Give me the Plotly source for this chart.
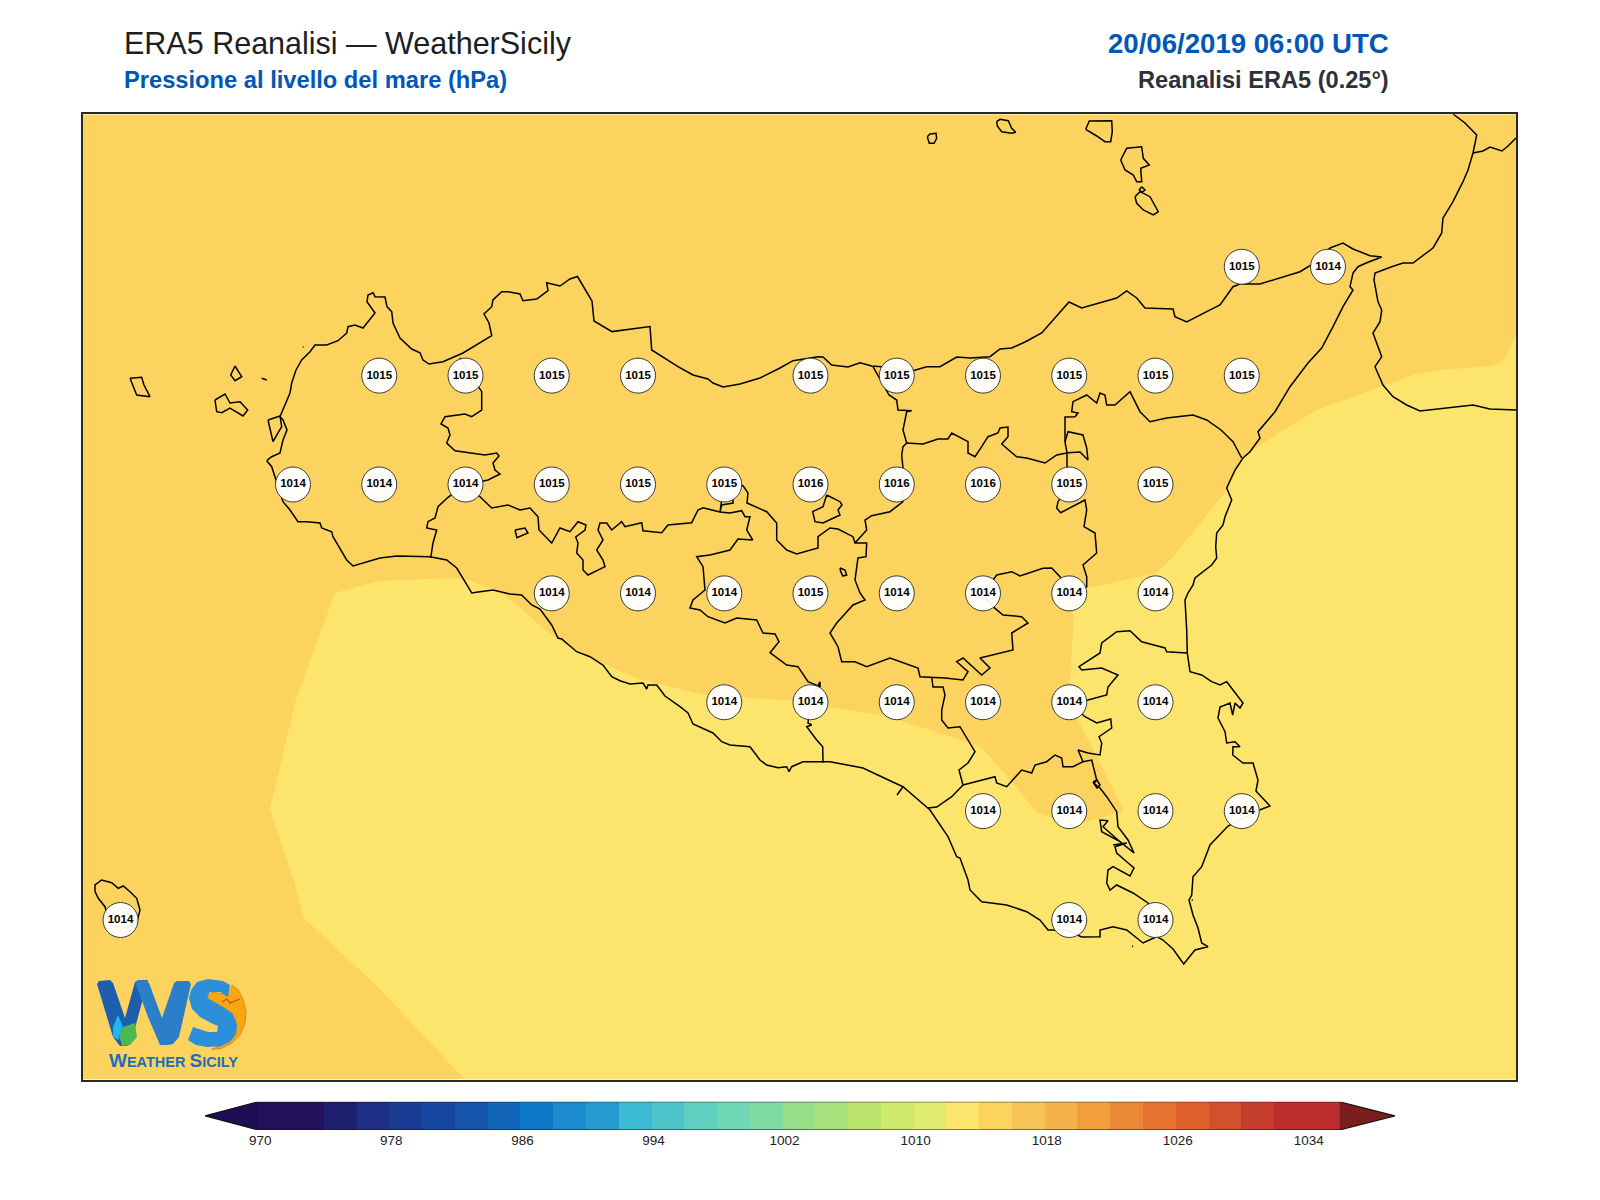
import plotly.graph_objects as go

# ---------- station grid (longitude, latitude, sea level pressure in hPa) ----------
station_lon = [15.25, 15.5,
               12.75, 13.0, 13.25, 13.5, 14.0, 14.25, 14.5, 14.75, 15.0, 15.25,
               12.5, 12.75, 13.0, 13.25, 13.5, 13.75, 14.0, 14.25, 14.5, 14.75, 15.0,
               13.25, 13.5, 13.75, 14.0, 14.25, 14.5, 14.75, 15.0,
               13.75, 14.0, 14.25, 14.5, 14.75, 15.0,
               14.5, 14.75, 15.0, 15.25,
               12.0, 14.75, 15.0]
station_lat = [38.25] * 2 + [38.0] * 10 + [37.75] * 11 + [37.5] * 8 + [37.25] * 6 + [37.0] * 4 + [36.75] * 3
station_hpa = [1015, 1014,
               1015, 1015, 1015, 1015, 1015, 1015, 1015, 1015, 1015, 1015,
               1014, 1014, 1014, 1015, 1015, 1015, 1016, 1016, 1016, 1015, 1015,
               1014, 1014, 1014, 1015, 1014, 1014, 1014, 1014,
               1014, 1014, 1014, 1014, 1014, 1014,
               1014, 1014, 1014, 1014,
               1014, 1014, 1014]

# ---------- colour bar levels ----------
level_start = 970
level_step = 2
level_colors = ["#24115E", "#24115E", "#1F1F70", "#1F2E85", "#1B3A92", "#1746A0", "#1455AB", "#1164B8",
                "#0E78C8", "#1B8ACF", "#259BD0", "#3DBBD3", "#4EC4CB", "#5FCFC0", "#6FD7B5", "#7FD9A3",
                "#97DE88", "#A8E27C", "#BAE46C", "#CFE86E", "#E0EC70", "#FDE56D", "#FDD35F", "#F7C358",
                "#F5B24B", "#F19E3D", "#EC8938", "#E67330", "#E0612B", "#D2502B", "#C53D2C", "#BB2D2C", "#BB2D2C"]
level_ticks = [970, 978, 986, 994, 1002, 1010, 1018, 1026, 1034]

# ---------- outlines (x, y as read on the picture) ----------
band_1012_1014 = [(465,1079.5),(378,987),(304,918),(293,878),(270,809),(296,699),(335,593),(378,581),(430,579),(457,578),
    (473,582),(497,590),(517,605),(537,623),(558,640),(587,655),(617,670),(637,678),(670,687),(707,695),(747,698),(797,701),
    (830,707),(880,715),(930,730),(970,743),(982,748),(1013,783),(1035,811),(1052,818),(1085,822),(1124,811),(1097,757),
    (1078,720),(1070,683),(1073,630),(1073,612),(1080,590),(1157,573),(1173,557),(1197,527),(1227,490),(1243,458),(1253,450),
    (1283,430),(1317,410),(1380,387),(1413,375),(1443,370),(1490,366),(1502,363),(1516,337),(1516,1079.5)]

sicily_coast = [(266.7,460.7),(271.7,456.7),(280,453),(281.7,445),(283,440),(287,430),(283,420),(280,416.7),(290,393),(291.7,383),
    (296,370),(301.7,360),(310,351.7),(315,345),(326.7,345),(338,340.7),(346.7,333),(348,326.7),(355,325),(363,328),(375,313),
    (367,301.7),(368,295),(373,292.7),(375,296.7),(385,297),(387,306.7),(391.7,311.7),(393,323),(400,338),(411.7,349),(420,352.7),
    (423,360),(429,364),(443,361.7),(463,353),(480,343),(491.7,335.7),(489,323),(484,314),(491.7,306.7),(493,300),(501.7,291.7),
    (508,291.7),(520,294),(523,300.7),(536.7,299),(548,290.7),(546.7,282.7),(560,286),(570,279),(577.5,276.5),(592,301),(594,321),
    (612,331.6),(638,328.6),(650,326.5),(651.7,350),(666.7,360),(678,366.7),(693,375),(708,379),(713,383),(723,387),(740,384),
    (760,378),(780,368),(793,360.7),(818,356.7),(823,357),(831.7,365),(848,367),(860,362.7),(871.7,366),(881.7,366.7),(913,370.7),
    (926.7,366.7),(940,366.7),(956.7,357),(970,358),(990,356.7),(1000,349),(1011.7,348),(1025,342),(1041.7,333),(1053,320),(1069,302),
    (1081.7,308),(1103,301.7),(1116.7,298),(1126.7,291),(1136.7,298),(1145,308),(1173,309),(1175,316.7),(1186.7,322),(1206.7,311.7),
    (1220,305),(1233,286.7),(1240,284),(1260,284),(1280,278),(1300,271.7),(1310,265.7),(1330,248),(1343,243),(1353,249),(1370,255.7),
    (1381.7,257),(1366.7,262.7),(1358,266.7),(1353,273),(1350,286.7),(1353,290),(1343,306.7),(1333,326.7),(1321.7,348),(1308,363),
    (1290,386.7),(1275,411.7),(1258,431.7),(1260,438),(1250,451.7),(1243,458),(1235,470),(1226.7,488),(1231.7,500),(1225,516.7),
    (1223,525),(1216.7,533),(1215.7,546.7),(1216.7,558),(1211.7,565),(1195,578),(1193,585),(1188,593),(1185,600),(1186.7,630),
    (1187.3,653),(1190,671.7),(1201.7,675),(1211.7,681.7),(1220,685),(1226.7,681.7),(1235,693),(1243,703),(1240,708),(1235,703),
    (1232.7,715),(1230,703),(1220,707),(1218,718),(1225,731.7),(1226.7,743),(1235,741.7),(1240,746.7),(1233,746.7),(1232.7,755),
    (1243,763),(1253,763),(1258,780),(1256,791),(1270,806),(1257,811),(1228,826),(1210,845),(1201.7,866.7),(1193,876.7),(1191.7,895),
    (1189,900),(1193,915),(1198,928),(1201.7,943),(1208,946.7),(1195,950),(1183.7,964),(1173,949),(1163,940),(1156.7,936.7),(1143,943),
    (1126.7,930),(1113,926.7),(1100,930),(1100,936.7),(1081.7,937),(1066.7,930),(1048,930),(1040,920),(1026.7,911.7),(1006.7,905),
    (981.7,901.7),(970,890),(968,880),(960,858),(956.7,856.7),(948,836.7),(930,810),(903,786.7),(890,780.7),(863,768),(830,761.7),
    (803,761.7),(791.7,766.7),(789,771.7),(786.7,766.7),(778,767.7),(766.7,765),(760,760),(750,746.7),(730,745),(721.7,741.7),(713,733),
    (693,724),(688,713),(680,706.7),(665,696),(656.7,685),(648,685),(646.7,689),(643,683),(630,684),(620,680.7),(611.7,676.7),(603,665),
    (590,656.7),(576.7,651.7),(561.7,639),(558,638),(551.7,625),(540,609),(531.7,605),(521.7,595),(510,594),(493,590),(480,591.7),
    (471.7,593),(468,586.7),(456.7,568),(446.7,560),(430,556.7),(396.7,556),(380,558),(353,566),(346.7,560),(333,536.7),(331.7,531.7),
    (321.7,528),(320,523),(306.7,521.7),(298,521.7),(290,510),(283,501.7),(271.7,466.7),(266.7,460.7)]

province_borders = [
    [(460,358),(466,368),(481.7,391.7),(481.7,410),(471.7,416.7),(465,414),(445,416.7),(441,424),(448,428),(450,435),(446.7,443),(455,450.7),
     (485,455),(496.7,453),(499,456),(493,463),(495,470),(500,474),(488,480),(465,485),(448,497.3),(438,506.7),(435,518),(428,521.7),(426.7,528),
     (436.7,530),(433,543),(430.7,558)],
    [(465,485),(480,496.7),(491.7,508),(508,505),(520,510),(530,508),(538,516.7),(539,530),(551.7,543),(560,528),(570,531.7),(578,521.7),(586,525),
     (585,530),(575.7,537),(578,543),(576.7,553),(583,560),(583,570),(588,575),(605,566.7),(603,560),(596.7,550),(603,540),(598,530),(600,523),
     (606.7,523),(611.7,530),(621.7,521.7),(625,526.7),(641.7,522.7),(643,530.7),(661.7,532.7),(668,525),(691.7,522.7),(698,510),(703,507.7),
     (720,512),(730,513),(741.7,510.7),(745,516.7),(750,516.7),(746.7,530),(752.7,540),(738,539),(730,550),(710,555),(696.7,556.7),(703,566.7),
     (705,590),(693,600),(690,608),(700,610),(708,616.7),(725,623),(736.7,618),(756.7,620),(763,633),(775,634),(779,641.7),(770,652.7),(786.7,665),
     (798,666.7),(808,681.7),(820,686.7),(820,681.7),(810,703),(808,723),(811.7,725),(806.7,726.7),(816.7,740),(822.7,746.7),(823,762.7)],
    [(720,512),(721.7,505),(733,503),(733,498),(722,498),(720,512)],
    [(724,485),(743,485.7),(748,493),(747,503),(766.7,511.7),(776.7,523),(776.7,540),(786.7,550),(796.7,554),(818,548),(818,536.7),(830,528),(838,529),
     (853,536.7),(855,543),(866.7,543),(866,556.7),(858,558),(855,580),(860,593),(865,600),(853,605),(836.7,623),(830,633),(838,646.7),(841.7,661.7),
     (855,661.7),(866.7,666.7),(890,658),(918,668),(920,676.7),(931.7,677),(945,678),(963,680),(968,671.7),(956.7,661.7),(963,658),(981.7,675),(990,668),
     (980,658),(1013,650),(1011.7,633),(1028,623),(1021.7,616.7),(1003,615),(993,606.7),(983,594),(996.7,575),(1011.7,571.7),(1020,576),(1043,568.3),
     (1051.7,568),(1060,576.7),(1069,594),(1086.7,586.7),(1086.7,576.7),(1083,565),(1096.7,553),(1095,533),(1084,526.7),(1086.7,510),(1085,500),(1071.7,506.7),
     (1060.7,512.7),(1056.7,508),(1058,501.7),(1069,485),(1067,465),(1067,452.7),(1065,441.7),(1068,431.7),(1075,433),(1083,435),(1086.7,448),(1088,460),
     (1080,452),(1068,452.7),(1056.7,455),(1045,463),(1026.7,458),(1016.7,456.7),(1001.7,444),(1008,436.7),(1008,427),(1000,428),(998,433),(988,436.7),
     (981.7,446.7),(975,456.7),(968,453),(968,441.7),(951.7,433),(948,439),(938,439),(923,444),(906.7,443),(903,446.7),(901.7,455),(903,468),(903,501.7),
     (890,511.7),(871.7,515.7),(865,520),(866.7,530),(855,543)],
    [(1065,441.7),(1065,417),(1075,416.7),(1078,413),(1071.7,411.7),(1073,401.7),(1086.7,395),(1096.7,403),(1100,393),(1105,395),(1106.7,405),(1115,405),
     (1130,391.7),(1140,411.7),(1150,421.7),(1166.7,418),(1193,415),(1206.7,420),(1221,430),(1233,441.7),(1241.7,458)],
    [(906.7,443),(903,430),(906.7,411.7),(911.7,410.7),(898,410),(896.7,400),(889,395),(873,366.7)],
    [(931.7,677),(933,687),(943,687),(945,695),(941.7,710),(941.7,720),(948,728),(960,726.7),(975,751.7),(968,763),(959,770),(963,785),(951.7,796.7),
     (936.7,807),(928,808)],
    [(963,785),(995,776.7),(996.7,783),(1006.7,786.7),(1021.7,770),(1031.7,773),(1035,765),(1046.7,761.7),(1055,755),(1061.7,758),(1063,766.7),(1073,766.7),
     (1083,761.7),(1078,750),(1088,753),(1100,755),(1101.7,743),(1099,736.7),(1111.7,728),(1110.7,719),(1096.7,723),(1085,716.7),(1069,703),(1088,700),
     (1106.7,695),(1108,687),(1118,675),(1101.7,668),(1081.7,670),(1079,666.7),(1100,653),(1101.7,643),(1116.7,631.7),(1130,630.7),(1141.7,641.7),(1165,648),
     (1166.7,651.7),(1187,653)],
    [(1083,761.7),(1091.7,760),(1096.7,780),(1094,783.3),(1100,788),(1106.7,796.7),(1116.7,811.7),(1118,826.7),(1128,840),(1134,853),(1120,841.7),(1103,826.7),
     (1108,820.7),(1100,820),(1101.7,831.7),(1120,841.7)],
    [(1113,845),(1126.7,843),(1115,846.7),(1116.7,853),(1126.7,861.7),(1134,868),(1130,876),(1113,866.7),(1108,870),(1106.7,883),(1110,890),(1116.7,885),
     (1133,893),(1148,903),(1156,920),(1156.7,936.7)],
    [(1093,782),(1097,780),(1100,785),(1097,788),(1093,782)],
    [(897,795),(903,786.7)],
]

island_outlines = [
    [(130,378.3),(141.7,377.3),(144,385),(150,396.7),(136.7,395),(134,388),(130,378.3)],
    [(215,400),(225,394),(230,403),(240,401.7),(247.7,410),(243,416),(230,408),(221.7,412.7),(216.7,411.7),(215,400)],
    [(235,366),(241.7,376.7),(235,380.7),(230.7,375),(235,366)],
    [(261.7,378.3),(266.7,380)],
    [(302.7,346.7),(303.5,347)],
    [(268,420),(280,416),(281.7,426.7),(273,441.7),(268,420)],
    [(515,530),(525,528),(528,533),(517,537.7),(515,530)],
    [(840,568),(845,570),(846.7,575),(843,576),(840.7,571.7),(840,568)],
    [(826.7,495),(840,501.7),(842,505),(838,510),(840,515),(823,523),(815,521.7),(812.7,511.7),(823,506.7),(825,500),(826.7,495)],
    [(927.3,136.7),(930,134),(936,133.3),(936.7,138.3),(934,143.3),(929.3,143.3),(927.3,136.7)],
    [(996.7,121.7),(1000,119.3),(1008.3,120.7),(1011.7,128.3),(1015.7,132.3),(1011.7,133.3),(1001.7,131.7),(997.3,126),(996.7,121.7)],
    [(1085.7,129.3),(1089.3,121),(1111.7,120.7),(1112.3,131.7),(1110.7,141.7),(1105,141.7),(1096.7,136),(1085.7,129.3)],
    [(1120.7,160),(1126.7,148.3),(1141.7,146.7),(1143.3,158.3),(1149.3,165),(1140.7,168.3),(1141.7,181.7),(1136.7,181.7),(1133.3,175),(1125,170),(1120.7,160)],
    [(1141.7,186.7),(1145,190),(1141.7,192.3),(1139.3,190),(1141.7,186.7)],
    [(1135,196.7),(1140,191.7),(1150,196.7),(1158.3,211.7),(1153.3,215),(1143.3,210),(1136.7,203.3),(1135,196.7)],
    [(95,891.7),(95,885),(101.7,880),(111.7,882.7),(118.3,888.3),(123.3,886),(130,891.7),(136.7,898.3),(140,910),(136.7,923),(128,928),(110,925),(105,906.7),(98.3,898.3),(95,891.7)],
    [(1132,946),(1133,946.5)],
    [(1191.7,900),(1192.7,900.5)],
]

calabria_coast = [(1453,114),(1465,123),(1476.7,135),(1473,153),(1468,170),(1463,181.7),(1453,201.7),(1443,218),(1441.7,233),(1433,248),(1413,263),(1403,263),
    (1391.7,266.7),(1375,273),(1374,280),(1378,301.7),(1381.7,310),(1380,321.7),(1373,333),(1376.7,343),(1381.7,356.7),(1375,366.7),(1383,385),(1393,396.7),
    (1406.7,405),(1420,411),(1446.7,408),(1473,405),(1490,409),(1516,410)]
calabria_north = [(1473,153),(1483,151),(1490,147),(1502,151),(1508,146),(1516,138)]

logo_w_left = [(97,984),(99,981),(110,980),(113,983),(125,1018),(135,982),(148,980),(138,1017),(131,1043),(127,1046),(120,1046),(113,1037)]
logo_w_right = [(135,982),(138,980),(146,980),(149,983),(162,1018),(174,983),(177,981),(189,981),(191,984),(179,1037),(173,1044),(168,1045),(160,1045),(148,1017)]
logo_sun = [(231.7,985),(238.3,990),(243.3,1000),(246,1011.7),(245,1023.3),(240,1035),(231.7,1043.3),(221.7,1048.3),(211.7,1049.3),(222,1045),(235,1037),(236.7,1028),
            (235,1015),(223,1007),(207,998),(212,992),(227,995)]
logo_s = [(230,985),(223,981),(208,979),(197,982),(191,990),(189,998),(192,1009),(200,1017),(211,1023),(218,1026),(217,1032),(208,1032),(193,1027),(188,1040),(196,1045),(207,1047),
          (220,1046.5),(230,1042),(236,1034),(237,1025),(233,1014),(223,1007),(207,998),(210,992),(220,992),(228,997)]
logo_leaf = [(119,1035),(123,1027),(135,1023),(137,1037),(130,1045),(122,1046)]
logo_drop = [(118,1015),(123,1027),(119,1035),(119,1040),(113,1037),(113,1027),(118,1015)]
logo_bird = [(222,1002),(227,999),(230,1003),(240,999)]


# ---------- map projection of the traced outlines ----------
def lon_of(x):
    return 12.0 + (x - 120.5) / 345.0


def lat_of(y):
    return 36.75 + (920.0 - y) / 435.5


def lons(points):
    return [lon_of(p[0]) for p in points]


def lats(points):
    return [lat_of(p[1]) for p in points]


W, H = 1600, 1200
FRAME_L, FRAME_R, FRAME_T, FRAME_B = 82.7, 1516.0, 114.3, 1079.5
BAR_TIP_L, BAR_TIP_R, BAR_T, BAR_B = 205.0, 1395.0, 1101.7, 1130.0
PX_PER_HPA = (1339.6 - 258.3) / 66.0
FONT = "Liberation Sans"

ORANGE = level_colors[22]
YELLOW = level_colors[21]

fig = go.Figure()


def add_fill(points, color):
    fig.add_trace(go.Scatter(x=lons(points), y=lats(points), mode="lines", fill="toself", fillcolor=color,
                             line=dict(width=0, color=color), hoverinfo="skip", showlegend=False))


def add_line(points, color="#000000", width=1.5):
    fig.add_trace(go.Scatter(x=lons(points), y=lats(points), mode="lines", line=dict(color=color, width=width),
                             hoverinfo="skip", showlegend=False))


add_fill([(FRAME_L, FRAME_T), (FRAME_R, FRAME_T), (FRAME_R, FRAME_B), (FRAME_L, FRAME_B), (FRAME_L, FRAME_T)], ORANGE)
add_fill(band_1012_1014, YELLOW)
for outline in [sicily_coast, calabria_coast, calabria_north] + province_borders + island_outlines:
    add_line(outline)

# logo
add_fill(logo_sun, "#F7A70F")
add_line(logo_sun, "#E9851A", 1.0)
add_fill(logo_w_left, "#1B5FAD")
add_fill(logo_w_right, "#2A7FC8")
add_fill(logo_s, "#2C8FDA")
add_fill(logo_leaf, "#4FB84E")
add_fill(logo_drop, "#1FB5F0")
add_line(logo_bird, "#C8501C", 1.2)

fig.add_trace(go.Scatter(
    x=station_lon, y=station_lat, mode="markers+text", text=[str(v) for v in station_hpa],
    textposition="middle center", textfont=dict(family=FONT, size=11.5, color="#000000", weight="bold"),
    marker=dict(size=35, color="rgba(255,255,255,0.95)", line=dict(color="#3A3A3A", width=1)),
    hoverinfo="skip", showlegend=False))

# colour bar
level_centers = [level_start + level_step * (i + 0.5) for i in range(len(level_colors))]
level_end = level_start + level_step * len(level_colors)
tip_low = level_start - (258.3 - BAR_TIP_L) / PX_PER_HPA
tip_high = level_end + (BAR_TIP_R - 1339.6) / PX_PER_HPA

fig.add_trace(go.Bar(x=level_centers, y=[1] * len(level_colors), width=level_step, marker=dict(color=level_colors, line=dict(width=0)),
                     xaxis="x2", yaxis="y2", hoverinfo="skip", showlegend=False))
fig.add_trace(go.Scatter(x=[level_start, tip_low, level_start, level_start], y=[0, 0.5, 1, 0], mode="lines", fill="toself", fillcolor="#1E0F55",
                         line=dict(width=0), xaxis="x2", yaxis="y2", hoverinfo="skip", showlegend=False))
fig.add_trace(go.Scatter(x=[level_end, tip_high, level_end, level_end], y=[0, 0.5, 1, 0], mode="lines", fill="toself", fillcolor="#7C1D1D",
                         line=dict(width=0), xaxis="x2", yaxis="y2", hoverinfo="skip", showlegend=False))
fig.add_trace(go.Scatter(x=[level_start, tip_low, level_start, level_end, tip_high, level_end, level_start], y=[1, 0.5, 0, 0, 0.5, 1, 1], mode="lines",
                         line=dict(color="#111111", width=1.1), xaxis="x2", yaxis="y2", hoverinfo="skip", showlegend=False, cliponaxis=False))

fig.update_layout(
    width=W, height=H, autosize=False, margin=dict(l=0, r=0, t=0, b=0), paper_bgcolor="#FFFFFF", plot_bgcolor="#FFFFFF",
    bargap=0, font=dict(family=FONT),
    xaxis=dict(domain=[FRAME_L / W, FRAME_R / W], range=[lon_of(FRAME_L), lon_of(FRAME_R)], showgrid=False, zeroline=False, showticklabels=False,
               ticks="", showline=True, mirror=True, linecolor="#2A2A2A", linewidth=1.5, layer="above traces"),
    yaxis=dict(domain=[1 - FRAME_B / H, 1 - FRAME_T / H], range=[lat_of(FRAME_B), lat_of(FRAME_T)], showgrid=False, zeroline=False, showticklabels=False,
               ticks="", showline=True, mirror=True, linecolor="#2A2A2A", linewidth=1.5, layer="above traces"),
    xaxis2=dict(domain=[BAR_TIP_L / W, BAR_TIP_R / W], range=[tip_low, tip_high], anchor="y2", tickmode="array", tickvals=level_ticks,
                ticktext=[str(t) for t in level_ticks], showgrid=False, zeroline=False, ticks="", showline=False, ticklabelshift=2,
                tickfont=dict(family=FONT, size=13.5, color="#222222")),
    yaxis2=dict(domain=[1 - BAR_B / H, 1 - BAR_T / H], range=[0, 1], anchor="x2", showgrid=False, zeroline=False, showticklabels=False, ticks="", showline=False),
)


def add_text(text, x_px, y_px, size, color, anchor="left", bold=False, family=FONT):
    fig.add_annotation(text=text, x=x_px / W, y=1 - y_px / H, xref="paper", yref="paper", xanchor=anchor, yanchor="middle", showarrow=False,
                       font=dict(family=family, size=size, color=color, weight="bold" if bold else "normal"))


add_text("ERA5 Reanalisi — WeatherSicily", 121.5, 44, 30.5, "#1B1E23")
add_text("Pressione al livello del mare (hPa)", 121.5, 80, 23.7, "#0057B8", bold=True)
add_text("20/06/2019 06:00 UTC", 1390.5, 44, 27.6, "#0057B8", anchor="right", bold=True)
add_text("Reanalisi ERA5 (0.25°)", 1390.5, 80, 23.6, "#2F3136", anchor="right", bold=True)
add_text('<span style="font-size:19px">W</span>EATHER <span style="font-size:19px">S</span>ICILY', 173, 1060, 14.5, "#1E6FB5", anchor="center", bold=True)

fig.write_html("out.html", config={"displayModeBar": False},
               post_script="document.body.style.margin='0';document.body.style.overflow='hidden';")
